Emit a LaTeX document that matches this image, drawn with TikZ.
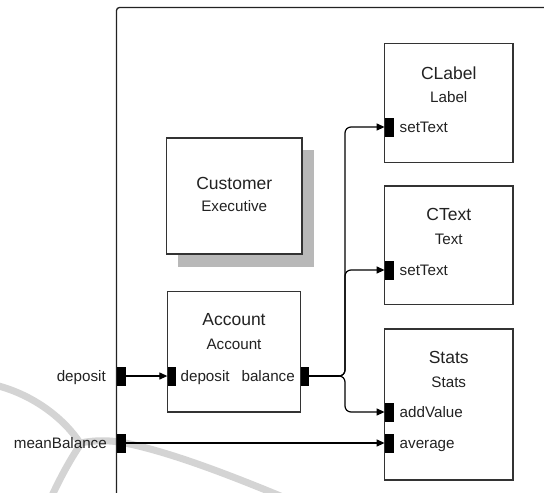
\documentclass[tikz,border=0pt]{standalone}
\usepackage{fontspec}
\setmainfont{Liberation Sans}
\usetikzlibrary{arrows.meta}
\definecolor{ink}{HTML}{222222}
\definecolor{edge}{HTML}{333333}
\definecolor{shade}{HTML}{B8B8B8}
\definecolor{mark}{HTML}{D4D4D4}
\tikzset{
  comp/.style={draw=edge, line width=1.3pt, fill=white, inner sep=0pt},
  shadowbox/.style={fill=shade, draw=none, inner sep=0pt},
  port/.style={fill=black, draw=none, inner sep=0pt, minimum width=9pt, minimum height=19pt},
  title/.style={anchor=base, text=ink, font=\fontsize{17.5}{20}\selectfont, inner sep=0pt},
  kind/.style={anchor=base, text=ink, font=\fontsize{15.2}{18}\selectfont, inner sep=0pt},
  plabel/.style={text=ink, font=\fontsize{15.2}{18}\selectfont, inner sep=0pt},
  conn/.style={draw=black, line width=1.2pt, -{Triangle[length=8pt,width=7pt]}},
  wire/.style={draw=black, line width=1.2pt},
  faint/.style={draw=mark, line width=7pt, line cap=round}
}
\begin{document}
\begin{tikzpicture}[x=1pt,y=-1pt]
\useasboundingbox (0,0) rectangle (544,493);
\clip (0,0) rectangle (544,493);
\fill[white] (0,0) rectangle (544,493);

% faint background strokes
\draw[faint] (-5,385) .. controls (35,395) and (65,420) .. (80,443);
\draw[faint] (80,445) .. controls (70,460) and (60,478) .. (50,500);
\draw[faint] (80,443) .. controls (95,440) and (110,440) .. (125,443)
  .. controls (170,452) and (230,475) .. (290,500);

% enclosing composite frame
\draw[draw=ink, line width=1.3pt, rounded corners=3pt] (116.5,500) |- (560,7.5);

% components
\node[shadowbox, minimum width=136.5pt, minimum height=116.5pt] (custsh) at (245.8,208.3) {};
\node[comp, minimum width=135.5pt, minimum height=116pt] (cust) at (234.25,196) {};
\node[comp, minimum width=133pt, minimum height=120.5pt] (acct) at (234,351.75) {};
\node[comp, minimum width=128.5pt, minimum height=118.7pt] (clabel) at (448.75,103) {};
\node[comp, minimum width=128.5pt, minimum height=118.3pt] (ctext) at (448.75,245.2) {};
\node[comp, minimum width=128.5pt, minimum height=151pt] (stats) at (448.75,404.5) {};

% names and types
\node[title] (custT) at (234.25,189.3) {Customer};
\node[kind]  (custK) at (234.25,211.4) {Executive};
\node[title] (acctT) at (234,325.3) {Account};
\node[kind]  (acctK) at (234,349) {Account};
\node[title] (clabelT) at (448.75,79.3) {CLabel};
\node[kind]  (clabelK) at (448.75,102) {Label};
\node[title] (ctextT) at (448.75,220.7) {CText};
\node[kind]  (ctextK) at (448.75,244) {Text};
\node[title] (statsT) at (448.75,363.7) {Stats};
\node[kind]  (statsK) at (448.75,387) {Stats};

% ports
\node[port] (pdep) at (121,376) {};
\node[port] (pmean) at (121,443) {};
\node[port, minimum width=8.5pt] (adep) at (171.8,376) {};
\node[port, minimum width=8.5pt] (abal) at (304.8,376) {};
\node[port] (lset) at (389.3,127) {};
\node[port] (tset) at (389.3,270) {};
\node[port] (sadd) at (389.3,412) {};
\node[port] (savg) at (389.3,443) {};

% port labels
\node[plabel, anchor=base east] (pdepL) at (106,381.5) {deposit};
\node[plabel, anchor=base east] (pmeanL) at (107,448.5) {meanBalance};
\node[plabel, anchor=base west] (adepL) at (180.4,381.5) {deposit};
\node[plabel, anchor=base east] (abalL) at (295,381.5) {balance};
\node[plabel, anchor=base west] (lsetL) at (399.5,132.5) {setText};
\node[plabel, anchor=base west] (tsetL) at (399.5,275.5) {setText};
\node[plabel, anchor=base west] (saddL) at (399.5,417.5) {addValue};
\node[plabel, anchor=base west] (savgL) at (399.5,448.5) {average};

% connectors
\coordinate (split) at (345,376);
\draw[conn] (pdep.east) -- (adep.west);
\draw[conn] (pmean.east) -- (savg.west);
\draw[wire, line width=2.4pt] (abal.east) -- (339,376);
\draw[conn, rounded corners=6pt] (abal.east) -- (split) |- (lset.west);
\draw[conn, rounded corners=6pt] (abal.east) -- (split) |- (tset.west);
\draw[conn, rounded corners=6pt] (abal.east) -- (split) |- (sadd.west);
\end{tikzpicture}
\end{document}
